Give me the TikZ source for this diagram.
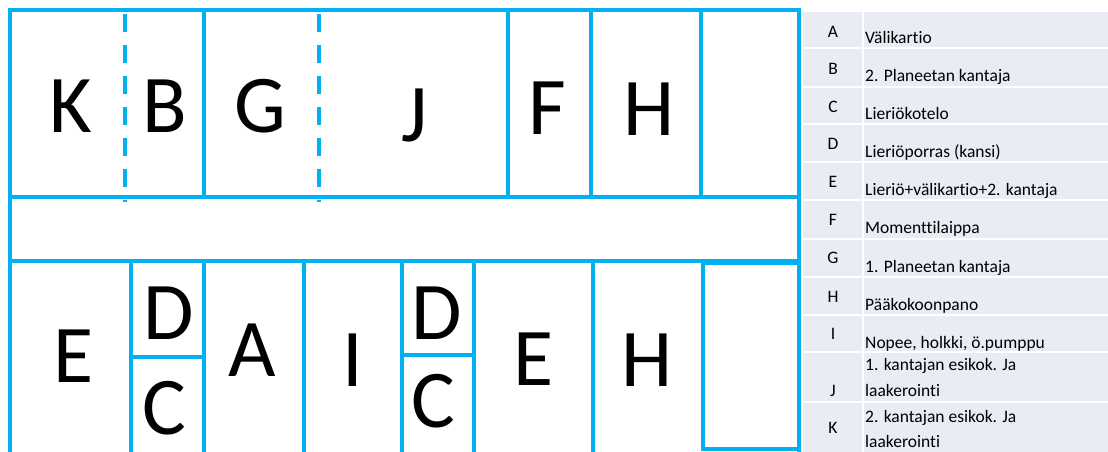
\documentclass[tikz,border=0pt]{standalone}
\usepackage{fontspec}
\setmainfont{Carlito}[Ligatures=NoCommon]
\definecolor{lineblue}{HTML}{00B0F0}
\definecolor{rowfill}{HTML}{E9EBF5}
\begin{document}
\begin{tikzpicture}[x=1pt,y=-1pt,
  frame/.style={draw=lineblue,line width=3.2pt},
  heavy/.style={draw=lineblue,line width=4.2pt},
  dashline/.style={draw=lineblue,line width=3.2pt,dash pattern=on 18pt off 13pt},
  big/.style={font=\fontsize{82}{82}\selectfont,anchor=base,inner sep=0pt},
  key/.style={font=\fontsize{17.5}{20}\selectfont,anchor=base,inner sep=0pt},
  desc/.style={font=\fontsize{17.5}{20}\selectfont,anchor=base west,inner sep=0pt},
  sep/.style={draw=white,line width=2pt}]
\useasboundingbox (0,0) rectangle (1108,451);
\begin{scope}
\clip (0,0) rectangle (1108,451);
% legend table
\fill[rowfill] (803,12) rectangle (1108,460);
\foreach \yy in {48,87,124,162,200,239,277,315,352,402}
  \draw[sep] (803,\yy) -- (1108,\yy);
\draw[sep] (863,12) -- (863,460);
% frame
\draw[frame] (10,460) -- (10,10) -- (799,10) -- (799,460);
\draw[frame] (10,197) -- (799,197);
\draw[frame] (10,261) -- (799,261);
% top row
\draw[dashline] (125,14) -- (125,202);
\draw[frame] (204,10) -- (204,197);
\draw[dashline] (319,14) -- (319,202);
\draw[frame] (508,10) -- (508,197);
\draw[frame] (591,10) -- (591,197);
\draw[heavy] (701,10) rectangle (799,197);
% bottom row
\draw[frame] (131,263) -- (131,460);
\draw[frame] (204,263) -- (204,460);
\draw[frame] (304,263) -- (304,460);
\draw[frame] (402,263) -- (402,460);
\draw[frame] (474,263) -- (474,460);
\draw[frame] (593,263) -- (593,460);
\draw[frame] (131,357) -- (204,357);
\draw[frame] (402,355) -- (474,355);
\draw[heavy] (703,263) rectangle (799,449);
\end{scope}
% big letters
\node[big] (K)  at (71,132)  {K};
\node[big] (B)  at (165,132) {B};
\node[big] (G)  at (260,132) {G};
\node[big] (J)  at (415,141) {J};
\node[big] (F)  at (547,134) {F};
\node[big] (H1) at (649,135) {H};
\node[big] (E1) at (74,382)  {E};
\node[big] (D1) at (169,339) {D};
\node[big] (C1) at (164,434) {C};
\node[big] (A)  at (252,376) {A};
\node[big] (I)  at (353,386) {I};
\node[big] (D2) at (437,339) {D};
\node[big] (C2) at (433,427) {C};
\node[big] (E2) at (534,385) {E};
\node[big] (H2) at (647,386) {H};
% legend text
\node[key] (kA) at (833,37)  {A};
\node[key] (kB) at (833,74)  {B};
\node[key] (kC) at (833,112) {C};
\node[key] (kD) at (833,149) {D};
\node[key] (kE) at (833,187) {E};
\node[key] (kF) at (833,225) {F};
\node[key] (kG) at (833,263) {G};
\node[key] (kH) at (833,302) {H};
\node[key] (kI) at (833,339) {I};
\node[key] (kJ) at (833,396) {J};
\node[key] (kK) at (833,433) {K};
\node[desc] (dA) at (865,43)  {Välikartio};
\node[desc] (dB) at (865,81)  {2. Planeetan kantaja};
\node[desc] (dC) at (865,119) {Lieriökotelo};
\node[desc] (dD) at (865,157) {Lieriöporras (kansi)};
\node[desc] (dE) at (865,195) {Lieriö+välikartio+2. kantaja};
\node[desc] (dF) at (865,233) {Momenttilaippa};
\node[desc] (dG) at (865,272) {1. Planeetan kantaja};
\node[desc] (dH) at (865,310) {Pääkokoonpano};
\node[desc] (dI) at (865,348) {Nopee, holkki, ö.pumppu};
\node[desc] (dJa) at (865,370) {1. kantajan esikok. Ja};
\node[desc] (dJb) at (865,396) {laakerointi};
\node[desc] (dKa) at (865,422) {2. kantajan esikok. Ja};
\node[desc] (dKb) at (865,447) {laakerointi};
\end{tikzpicture}
\end{document}
